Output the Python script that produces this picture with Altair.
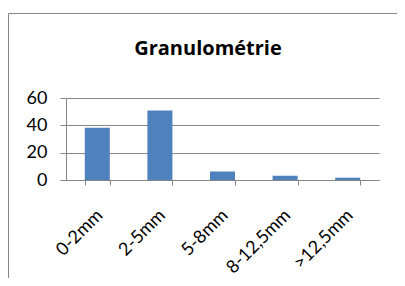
import altair as alt
import pandas as pd

categories = ["0-2mm", "2-5mm", "5-8mm", "8-12,5mm", ">12,5mm"]
values = [38.2, 50.8, 6.3, 3.1, 1.7]
title_text = ["Granulométrie"]

df = pd.DataFrame({"cat": categories, "val": values})
tdf = pd.DataFrame({"t": title_text})

FONT = "Lato"
GRAY = "#868686"

bars = alt.Chart(df).mark_bar(color="#4F81BD").encode(
    x=alt.X("cat:N", sort=categories, title=None,
            scale=alt.Scale(paddingInner=0.6, paddingOuter=0.3),
            axis=alt.Axis(labelAngle=-45, tickBand="extent", tickSize=5,
                          labelPadding=21, labelOffset=-4,
                          labelAlign="right", labelBaseline="top",
                          labelFontSize=18, labelFont=FONT, labelLimit=200,
                          labelColor="#000", domainColor=GRAY, tickColor=GRAY,
                          grid=False)),
    y=alt.Y("val:Q", title=None,
            scale=alt.Scale(domain=[0, 60]),
            axis=alt.Axis(values=[0, 20, 40, 60], tickSize=6, labelPadding=13,
                          labelFontSize=18, labelFont=FONT, labelColor="#000",
                          domainColor=GRAY, tickColor=GRAY, gridColor=GRAY,
                          grid=True)),
)

frame = alt.Chart(tdf).mark_rect(fill=None, stroke=GRAY, strokeWidth=1).encode(
    x=alt.value(-57.5), x2=alt.value(334.5), y=alt.value(-84.5), y2=alt.value(260)
)

title = alt.Chart(tdf).mark_text(font="Open Sans", fontSize=20, fontWeight="bold",
                                 color="#000", align="center", baseline="alphabetic").encode(
    x=alt.value(142), y=alt.value(-43), text="t:N"
)

chart = alt.layer(frame, bars, title).properties(
    width=313, height=82,
    autosize=alt.AutoSizeParams(type="none"),
    padding={"left": 58, "top": 90, "right": 18, "bottom": 98},
).configure_view(stroke=None).configure_axis(domainWidth=1, tickWidth=1, gridWidth=1)

chart.save("out.html", embed_options={"renderer": "svg", "actions": False})
